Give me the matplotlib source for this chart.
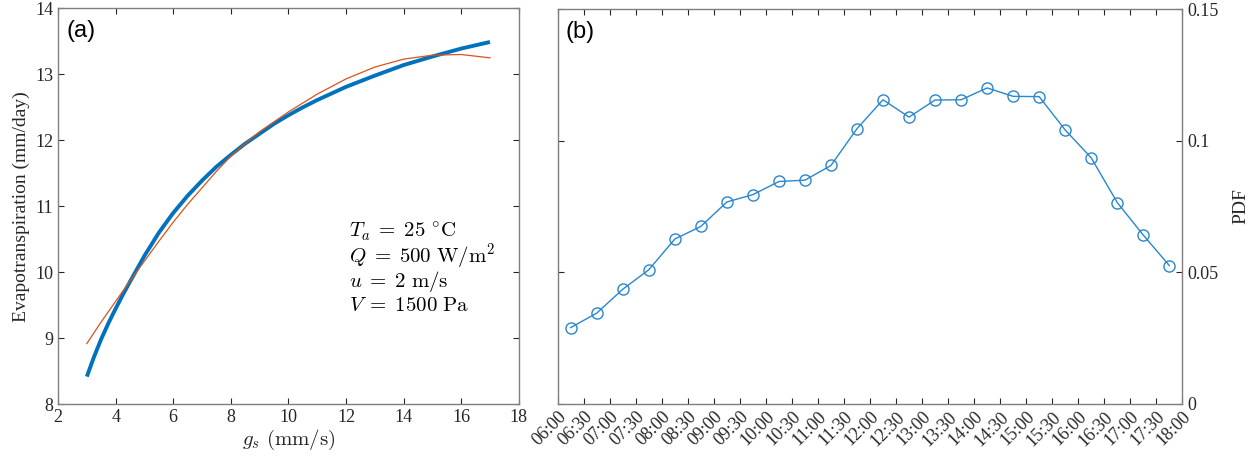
import matplotlib
matplotlib.use("Agg")
import matplotlib.pyplot as plt

plt.rcParams['font.family'] = ['Liberation Serif', 'DejaVu Serif']
plt.rcParams['mathtext.fontset'] = 'cm'

# panel (a): evapotranspiration vs stomatal conductance
gs_model = [3.0, 3.25, 3.5, 3.75, 4.0, 4.25, 4.5, 5, 5.5, 6, 6.5, 7, 7.5, 8,
            8.5, 9, 9.5, 10, 10.5, 11, 11.5, 12, 13, 14, 15, 16, 17]
et_model = [8.42, 8.72, 8.99, 9.23, 9.45, 9.66, 9.86, 10.25, 10.60, 10.90,
            11.16, 11.39, 11.60, 11.78, 11.95, 12.10, 12.25, 12.38, 12.50,
            12.61, 12.71, 12.81, 12.98, 13.14, 13.27, 13.39, 13.49]
gs_fit = [3, 3.5, 4, 4.5, 5, 5.5, 6, 6.5, 7, 7.5, 8, 8.5, 9, 10, 11, 12, 13,
          14, 15, 16, 17]
et_fit = [8.92, 9.25, 9.56, 9.87, 10.17, 10.47, 10.76, 11.03, 11.28, 11.53,
          11.76, 11.95, 12.13, 12.43, 12.70, 12.93, 13.11, 13.23, 13.29,
          13.30, 13.25]

# panel (b): PDF by half hour
time_ticks = ['06:00', '06:30', '07:00', '07:30', '08:00', '08:30', '09:00',
              '09:30', '10:00', '10:30', '11:00', '11:30', '12:00', '12:30',
              '13:00', '13:30', '14:00', '14:30', '15:00', '15:30', '16:00',
              '16:30', '17:00', '17:30', '18:00']
pdf = [0.0289, 0.0344, 0.0435, 0.0509, 0.0626, 0.0674, 0.0767, 0.0795,
       0.0845, 0.0850, 0.0906, 0.1046, 0.1156, 0.1090, 0.1155, 0.1156,
       0.1201, 0.1169, 0.1168, 0.1041, 0.0935, 0.0765, 0.0641, 0.0525]

fig = plt.figure(figsize=(12.51, 4.57), dpi=100)
axa = fig.add_axes([0.0464, 0.1153, 0.3683, 0.8665])
axb = fig.add_axes([0.4458, 0.1170, 0.4993, 0.8625])

for ax in (axa, axb):
    ax.tick_params(direction='in', top=True, right=True, left=True,
                   labelsize=13, colors='#262626', length=4)
    for s in ax.spines.values():
        s.set_color('#7f7f7f')
        s.set_linewidth(1.0)

axa.plot(gs_model, et_model, color='#0072BD', lw=2.8, solid_capstyle='butt')
axa.plot(gs_fit, et_fit, color='#D95319', lw=0.9)
axa.set_xlim(2, 18)
axa.set_ylim(8, 14)
axa.set_xticks(range(2, 19, 2))
axa.set_yticks(range(8, 15))
axa.set_xlabel(r'$g_s\ \mathrm{(mm/s)}$', fontsize=15, labelpad=1, color='#262626')
axa.set_ylabel('Evapotranspiration (mm/day)', fontsize=14, labelpad=4, color='#262626')
axa.text(0.018, 0.97, '(a)', transform=axa.transAxes, fontsize=17,
         family=['Liberation Sans', 'DejaVu Sans'], va='top', ha='left')
params = [r'$T_a\;=\;25\ ^{\circ}\mathrm{C}$',
          r'$Q\;=\;500\ \mathrm{W/m^2}$',
          r'$u\;=\;2\ \mathrm{m/s}$',
          r'$V\;=\;1500\ \mathrm{Pa}$']
for i, s in enumerate(params):
    axa.text(12.1, 10.62 - i * 0.38, s, fontsize=15, va='center', ha='left')

x_pts = [i + 0.5 for i in range(len(pdf))]
axb.plot(x_pts, pdf, '-o', color='#2a86cf', lw=1.0, ms=8,
         markerfacecolor='none', markeredgewidth=1.0)
axb.set_xlim(0, 24)
axb.set_ylim(0, 0.15)
axb.set_xticks(range(len(time_ticks)))
axb.set_xticklabels(time_ticks, rotation=45, ha='right', rotation_mode='anchor')
axb.set_yticks([0, 0.05, 0.1, 0.15])
axb.set_yticklabels(['0', '0.05', '0.1', '0.15'])
axb.yaxis.tick_right()
axb.tick_params(left=True, labelleft=False, right=True, labelright=True)
axb.yaxis.set_label_position('right')
axb.set_ylabel('PDF', fontsize=14, labelpad=10, color='#262626')
axb.text(0.012, 0.97, '(b)', transform=axb.transAxes, fontsize=17,
         family=['Liberation Sans', 'DejaVu Sans'], va='top', ha='left')

fig.savefig('out.png', dpi=100)
